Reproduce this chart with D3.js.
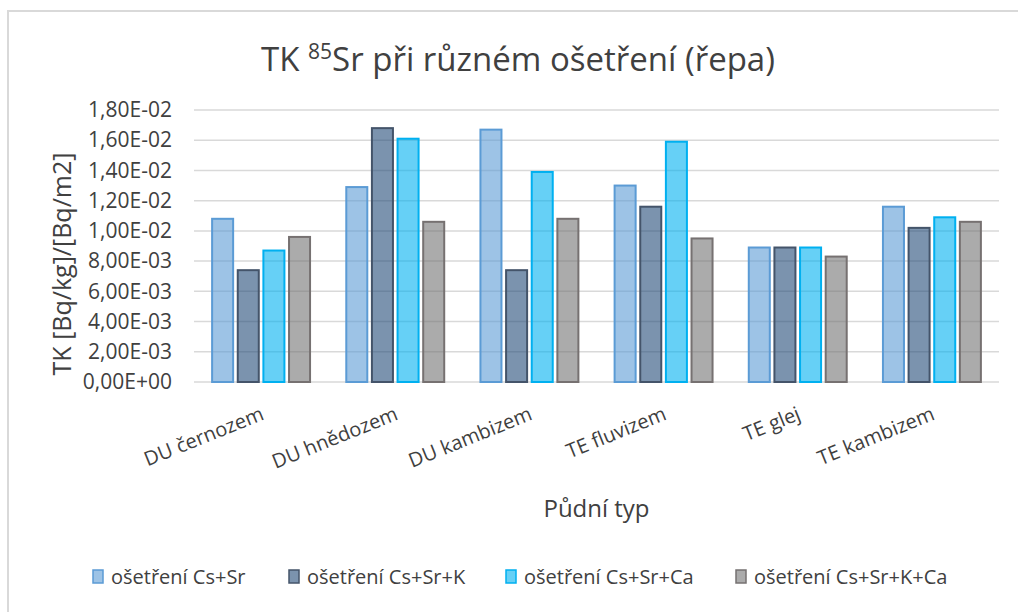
<!DOCTYPE html>
<html>
<head>
<meta charset="utf-8">
<script src="https://cdn.jsdelivr.net/npm/d3@7"></script>
<style>
  body { margin: 0; background: #fff; }
  text { font-family: "Open Sans", Lato, sans-serif; fill: #404040; }
</style>
</head>
<body>
<svg width="1018" height="612"></svg>
<script>
const categories = ['DU černozem', 'DU hnědozem', 'DU kambizem', 'TE fluvizem', 'TE glej', 'TE kambizem'];
const seriesNames = ['ošetření Cs+Sr', 'ošetření Cs+Sr+K', 'ošetření Cs+Sr+Ca', 'ošetření Cs+Sr+K+Ca'];
const csSr = [0.0108, 0.0129, 0.0167, 0.0130, 0.0089, 0.0116];
const csSrK = [0.0074, 0.0168, 0.0074, 0.0116, 0.0089, 0.0102];
const csSrCa = [0.0087, 0.0161, 0.0139, 0.0159, 0.0089, 0.0109];
const csSrKCa = [0.0096, 0.0106, 0.0108, 0.0095, 0.0083, 0.0106];
const yTicks = [0, 0.002, 0.004, 0.006, 0.008, 0.010, 0.012, 0.014, 0.016, 0.018];

const seriesValues = [csSr, csSrK, csSrCa, csSrKCa];
const fills = ['#5B9BD5', '#234B78', '#00B0F0', '#737373'];
const strokes = ['#5B9BD5', '#44546A', '#00B0F0', '#767171'];

const svg = d3.select('svg');
const margin = { top: 110, left: 194, right: 19, bottom: 230 };
const width = 1018 - margin.left - margin.right;
const height = 612 - margin.top - margin.bottom;

// outer chart border
svg.append('rect')
  .attr('x', 8).attr('y', 11)
  .attr('width', 1030).attr('height', 620)
  .attr('fill', 'none')
  .attr('stroke', '#D9D9D9')
  .attr('stroke-width', 2);

const x0 = d3.scaleBand().domain(categories).range([0, width]).paddingInner(0.27).paddingOuter(0.135);
const x1 = d3.scaleBand().domain(d3.range(4)).range([0, x0.bandwidth()]).paddingInner(0.18);
const y = d3.scaleLinear().domain([0, 0.018]).range([height, 0]);

const g = svg.append('g')
  .attr('transform', 'translate(' + margin.left + ',' + margin.top + ')');

// gridlines
g.append('g')
  .selectAll('line')
  .data(yTicks)
  .join('line')
  .attr('x1', 0).attr('x2', width)
  .attr('y1', d => y(d)).attr('y2', d => y(d))
  .attr('stroke', '#D9D9D9')
  .attr('stroke-width', 1.5);

const fmt = d => {
  const s = d === 0 ? '0.00E+00' : d.toExponential(2).toUpperCase().replace(/E([+-])(\d)$/, 'E$10$2');
  return s.replace('.', ',');
};

const yAxis = g.append('g')
  .call(d3.axisLeft(y).tickValues(yTicks).tickFormat(fmt).tickSize(0).tickPadding(22));
yAxis.select('.domain').remove();
yAxis.selectAll('text').style('font-size', '21px').attr('fill', '#404040');

// bars
const data = categories.map((c, i) => ({ cat: c, vals: seriesValues.map(s => s[i]) }));
g.append('g')
  .selectAll('g')
  .data(data)
  .join('g')
  .attr('transform', d => 'translate(' + x0(d.cat) + ',0)')
  .selectAll('rect')
  .data(d => d.vals.map((v, k) => ({ k, v })))
  .join('rect')
  .attr('x', d => x1(d.k))
  .attr('width', x1.bandwidth())
  .attr('y', d => y(d.v))
  .attr('height', d => height - y(d.v))
  .attr('fill', d => fills[d.k])
  .attr('fill-opacity', 0.6)
  .attr('stroke', d => strokes[d.k])
  .attr('stroke-width', 2);

// x axis labels
const xAxis = g.append('g')
  .attr('transform', 'translate(0,' + height + ')')
  .call(d3.axisBottom(x0).tickSize(0).tickPadding(0));
xAxis.select('.domain').remove();
xAxis.selectAll('text')
  .style('font-size', '20px')
  .attr('fill', '#404040')
  .attr('text-anchor', 'end')
  .attr('dy', 0)
  .attr('y', 0)
  .attr('transform', 'translate(4,37) rotate(-22)');

// title
const title = svg.append('text')
  .attr('x', 518).attr('y', 71)
  .attr('text-anchor', 'middle')
  .style('font-size', '33px')
  .attr('fill', '#404040');
title.append('tspan').text('TK ');
title.append('tspan').text('85').style('font-size', '21px').attr('dy', -12);
title.append('tspan').text('Sr při různém ošetření (řepa)').attr('dy', 12);

// axis titles
svg.append('text')
  .attr('transform', 'translate(71,' + (margin.top + height / 2 + 18) + ') rotate(-90)')
  .attr('text-anchor', 'middle')
  .style('font-size', '25px')
  .text('TK [Bq/kg]/[Bq/m2]');

svg.append('text')
  .attr('x', margin.left + width / 2).attr('y', 517)
  .attr('text-anchor', 'middle')
  .style('font-size', '24px')
  .text('Půdní typ');

// legend
const legendX = [93, 289, 506, 736];
const legend = svg.append('g')
  .selectAll('g')
  .data(seriesNames)
  .join('g')
  .attr('transform', (d, i) => 'translate(' + legendX[i] + ',570)');
legend.append('rect')
  .attr('width', 10).attr('height', 13)
  .attr('fill', (d, i) => fills[i])
  .attr('fill-opacity', 0.6)
  .attr('stroke', (d, i) => strokes[i])
  .attr('stroke-width', 1.5);
legend.append('text')
  .attr('x', 18).attr('y', 14)
  .style('font-size', '20px')
  .text(d => d);
</script>
</body>
</html>
